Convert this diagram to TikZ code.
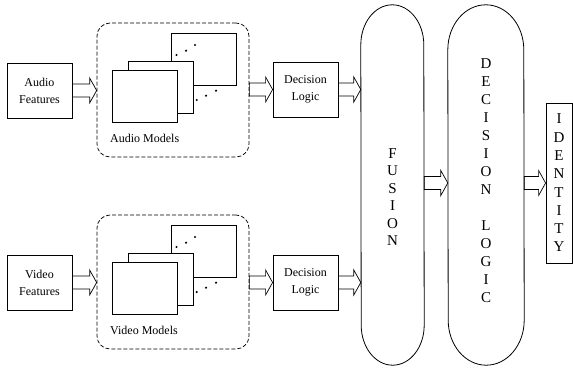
\documentclass[tikz,border=0pt]{standalone}
\usepackage{fontspec}
\setmainfont{Liberation Serif}
\usetikzlibrary{calc}

% hollow block arrow from one anchor to another (horizontal)
\newcommand{\fatarrow}[2]{%
  \draw[line width=0.7pt] let \p1=(#1), \p2=(#2) in
    (\x1,\y1+6.5pt) -- (\x2-7pt,\y1+6.5pt) -- (\x2-7pt,\y1+12.5pt) -- (\x2,\y1)
    -- (\x2-7pt,\y1-12.5pt) -- (\x2-7pt,\y1-6.5pt) -- (\x1,\y1-6.5pt) -- cycle;}

\tikzset{
  box/.style={draw, line width=0.8pt, minimum width=65pt, minimum height=55pt,
    align=center, inner sep=1pt, font=\fontsize{12}{17}\selectfont},
  modelgroup/.style={draw, line width=0.7pt, dash pattern=on 4pt off 2pt,
    rounded corners=13pt, minimum width=152pt, minimum height=134pt},
  model/.style={draw, line width=0.8pt, fill=white, inner sep=0pt,
    minimum width=65pt, minimum height=52pt},
  letters/.style={align=center, inner sep=0pt, font=\fontsize{15}{17.5}\selectfont},
}

\begin{document}
\begin{tikzpicture}[x=1pt, y=1pt]

\useasboundingbox (0,0) rectangle (573,-369);

% Audio branch
\node[box] (afeat) at (39.5,-90.5) {Audio\\Features};
\node[modelgroup] (amod) at (173,-90) {};
\node[model] (aback) at (203.5,-59) {};
\node[model] (amid) at (160.5,-87.5) {};
\node[model] (afront) at (144.5,-96.5) {};
\fill (176.5,-55) circle (1.2pt);
\fill (186,-50.7) circle (1.2pt);
\fill (195,-45) circle (1.2pt);
\fill (196.7,-100) circle (1.2pt);
\fill (206,-95.7) circle (1.2pt);
\fill (216,-90.7) circle (1.2pt);
\node[font=\fontsize{12}{14}\selectfont, anchor=west, inner sep=0pt] (alabel) at (110,-138) {Audio Models};
\node[box] (adec) at (305.5,-89.5) {Decision\\Logic};

% Video branch
\node[box] (vfeat) at (39.5,-282.5) {Video\\Features};
\node[modelgroup] (vmod) at (173,-282) {};
\node[model] (vback) at (203.5,-251) {};
\node[model] (vmid) at (160.5,-279.5) {};
\node[model] (vfront) at (144.5,-288.5) {};
\fill (176.5,-247) circle (1.2pt);
\fill (186,-242.7) circle (1.2pt);
\fill (195,-237) circle (1.2pt);
\fill (196.7,-292) circle (1.2pt);
\fill (206,-287.7) circle (1.2pt);
\fill (216,-282.7) circle (1.2pt);
\node[font=\fontsize{12}{14}\selectfont, anchor=west, inner sep=0pt] (vlabel) at (110,-330) {Video Models};
\node[box] (vdec) at (305.5,-282.5) {Decision\\Logic};

% Fusion and decision logic (tall pills)
\node[minimum width=63pt, minimum height=360pt, inner sep=0pt] (fusion) at (392.5,-185) {};
\draw[line width=0.8pt] ([yshift=-40pt]fusion.north west)
  arc[start angle=180, end angle=0, x radius=31.5pt, y radius=40pt]
  -- ([yshift=40pt]fusion.south east)
  arc[start angle=0, end angle=-180, x radius=31.5pt, y radius=40pt] -- cycle;
\node[letters] (fusiontext) at (392.5,-197) {F\\U\\S\\I\\O\\N};

\node[minimum width=76pt, minimum height=360pt, inner sep=0pt] (declogic) at (486,-185) {};
\draw[line width=0.8pt] ([yshift=-45pt]declogic.north west)
  arc[start angle=180, end angle=0, x radius=38pt, y radius=45pt]
  -- ([yshift=45pt]declogic.south east)
  arc[start angle=0, end angle=-180, x radius=38pt, y radius=45pt] -- cycle;
\node[letters, font=\fontsize{15}{18}\selectfont] (dectext) at (486,-181)
  {D\\E\\C\\I\\S\\I\\O\\N\\~\\L\\O\\G\\I\\C};

% Output
\node[draw, line width=0.8pt, minimum width=26pt, minimum height=160pt, inner sep=0pt,
  letters, font=\fontsize{15}{18.3}\selectfont] (ident) at (559,-183) {I\\D\\E\\N\\T\\I\\T\\Y};

% Draw arrows
\fatarrow{afeat.east}{amod.west}
\fatarrow{amod.east |- adec.west}{adec.west}
\fatarrow{adec.east}{fusion.west |- adec.east}
\fatarrow{vfeat.east}{vmod.west}
\fatarrow{vmod.east |- vdec.west}{vdec.west}
\fatarrow{vdec.east}{fusion.west |- vdec.east}
\fatarrow{fusion.east |- ident.west}{declogic.west |- ident.west}
\fatarrow{declogic.east |- ident.west}{ident.west}

\end{tikzpicture}
\end{document}
